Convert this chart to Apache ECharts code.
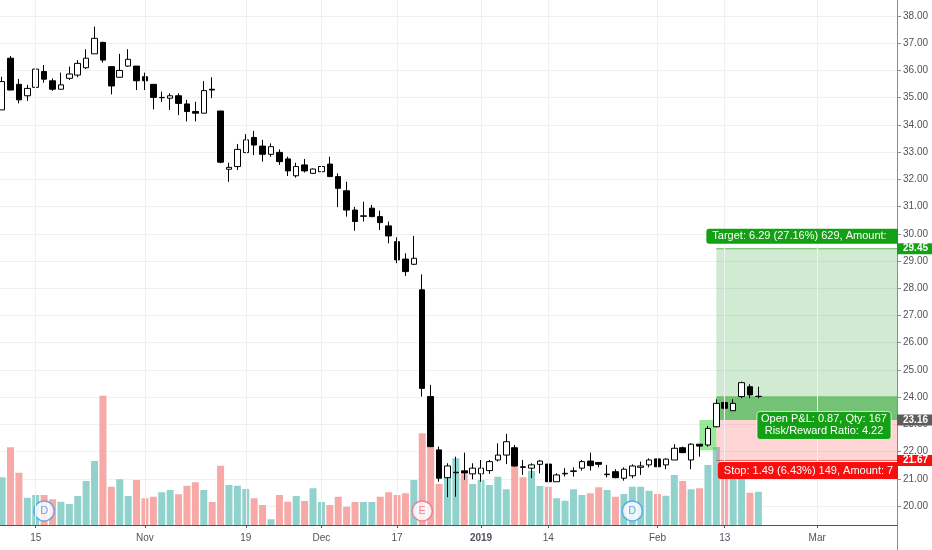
<!DOCTYPE html>
<html>
<head>
<meta charset="utf-8">
<script src="https://cdn.jsdelivr.net/npm/echarts@6/dist/echarts.min.js"></script>
<style>
html,body{margin:0;padding:0;background:#ffffff;}
#chart{width:932px;height:550px;}
</style>
</head>
<body>
<div id="chart"></div>
<script>
// ---- categories (trading days) ----
const dates = [
 '2018-10-09','2018-10-10','2018-10-11','2018-10-12','2018-10-15','2018-10-16','2018-10-17','2018-10-18','2018-10-19',
 '2018-10-22','2018-10-23','2018-10-24','2018-10-25','2018-10-26','2018-10-29','2018-10-30','2018-10-31',
 '2018-11-01','2018-11-02','2018-11-05','2018-11-06','2018-11-07','2018-11-08','2018-11-09','2018-11-12','2018-11-13',
 '2018-11-14','2018-11-15','2018-11-16','2018-11-19','2018-11-20','2018-11-21','2018-11-23','2018-11-26','2018-11-27',
 '2018-11-28','2018-11-29','2018-11-30',
 '2018-12-03','2018-12-04','2018-12-06','2018-12-07','2018-12-10','2018-12-11','2018-12-12','2018-12-13','2018-12-14',
 '2018-12-17','2018-12-18','2018-12-19','2018-12-20','2018-12-21','2018-12-24','2018-12-26','2018-12-27','2018-12-28','2018-12-31',
 '2019-01-02','2019-01-03','2019-01-04','2019-01-07','2019-01-08','2019-01-09','2019-01-10','2019-01-11','2019-01-14',
 '2019-01-15','2019-01-16','2019-01-17','2019-01-18','2019-01-22','2019-01-23','2019-01-24','2019-01-25','2019-01-28',
 '2019-01-29','2019-01-30','2019-01-31',
 '2019-02-01','2019-02-04','2019-02-05','2019-02-06','2019-02-07','2019-02-08','2019-02-11','2019-02-12','2019-02-13',
 '2019-02-14','2019-02-15','2019-02-19','2019-02-20','2019-02-21','2019-02-22','2019-02-25','2019-02-26','2019-02-27','2019-02-28',
 '2019-03-01','2019-03-04','2019-03-05','2019-03-06','2019-03-07','2019-03-08','2019-03-11','2019-03-12','2019-03-13','2019-03-14'
];

// ---- OHLC values ----
const opens = [
 34.55,36.45,35.49,35.07,35.38,35.96,35.62,35.31,35.71,35.83,36.10,36.61,37.03,36.14,35.75,36.16,36.16,35.77,35.49,35.00,
 34.98,35.07,34.77,34.49,34.43,35.31,34.51,32.37,32.47,32.98,33.54,33.22,32.92,32.99,32.75,32.13,32.53,32.22,32.28,32.56,
 32.10,31.58,30.87,30.64,30.94,30.63,30.29,29.71,29.07,28.88,27.94,24.02,22.06,21.04,21.22,21.29,21.18,21.18,21.30,21.69,
 21.87,22.14,21.44,21.39,21.53,21.54,20.89,21.18,21.27,21.39,21.65,21.60,21.15,21.26,21.02,21.11,21.42,21.51,21.73,21.51,
 21.69,22.14,21.69,22.27,22.24,22.91,23.80,23.50,24.02,24.38,24.02
];
const closes = [
 35.59,35.28,34.92,35.34,36.05,35.68,35.31,35.47,35.87,36.26,36.45,37.18,36.38,35.43,36.00,36.41,35.62,35.62,35.01,35.01,
 35.07,34.79,34.49,34.43,35.26,35.28,32.63,32.44,33.10,33.45,33.26,32.92,33.20,32.65,32.31,32.47,32.31,32.38,32.47,32.10,
 31.67,30.87,30.45,30.66,30.63,30.41,29.92,29.04,28.61,29.10,24.32,22.18,21.02,21.47,21.24,21.21,21.39,21.39,21.63,21.87,
 22.36,21.47,21.42,21.51,21.65,20.89,21.14,21.20,21.29,21.63,21.48,21.53,21.17,21.04,21.35,21.47,21.47,21.69,21.44,21.72,
 22.12,21.96,22.27,22.20,22.85,23.77,23.59,23.77,24.53,24.08,24.03
];
const lows = [
 34.55,35.28,34.79,34.88,35.34,35.55,35.25,35.31,35.65,35.75,36.05,36.61,36.29,35.12,35.75,36.14,35.28,35.28,34.57,34.85,
 34.55,34.36,34.13,34.13,34.43,34.98,32.59,31.91,32.34,32.98,32.89,32.65,32.83,32.53,32.12,32.06,32.25,32.20,32.12,32.08,
 30.98,30.63,30.11,30.45,30.61,30.14,29.65,28.92,28.45,28.85,24.02,22.18,20.89,20.32,20.34,20.96,20.98,20.89,21.18,21.63,
 21.54,21.44,21.14,21.02,21.20,20.89,20.89,21.08,21.08,21.30,21.30,21.42,21.05,21.02,20.93,21.02,21.14,21.42,21.42,21.35,
 21.69,21.94,21.35,21.81,22.18,22.89,23.34,23.50,23.96,23.96,23.96
];
const highs = [
 35.77,36.53,35.69,35.47,36.24,36.20,35.71,35.92,36.14,36.38,36.78,37.61,37.06,36.14,36.61,36.78,36.16,35.92,35.49,35.22,
 35.16,35.16,34.92,34.85,35.61,35.75,34.51,32.61,33.30,33.66,33.78,33.45,33.32,33.10,32.83,32.61,32.75,32.40,32.65,32.83,
 32.22,31.91,30.99,31.18,31.06,30.85,30.45,29.87,29.28,29.92,28.51,24.45,22.18,21.57,21.81,21.96,21.57,21.69,21.69,22.30,
 22.65,22.24,21.69,21.57,21.69,21.57,21.20,21.39,21.42,21.69,21.96,21.60,21.51,21.35,21.42,21.53,21.63,21.75,21.75,21.75,
 22.27,22.18,22.30,22.27,22.94,23.92,23.92,23.92,24.57,24.47,24.38
];

// ---- volume (thousands) and bar direction (1 = up colour, 0 = down colour) ----
const volumes = [
 1910,3110,2090,1090,1200,1200,1030,930,840,1160,1760,2560,5170,1530,1830,1160,1800,1070,1130,1310,
 1400,1230,1570,1710,1400,920,2370,1600,1570,1440,1070,800,230,1200,930,1160,960,1470,920,800,
 1130,730,920,920,920,1130,1310,1200,1270,1800,3670,4470,1640,2360,2670,2030,1640,1800,1600,1930,
 1430,2360,1910,2170,1560,1530,1070,970,1430,1200,1270,1510,1400,1130,1240,1530,1530,1370,1240,1170,
 2000,1760,1430,1470,2400,3120,2200,1880,1880,1290,1330
];
const volumeUp = [
 1,0,0,1,1,0,0,1,1,1,1,1,0,0,1,1,0,0,0,1,
 1,0,0,0,1,0,0,1,1,1,0,0,1,0,0,1,0,1,1,0,
 0,0,0,1,1,0,0,0,0,1,0,0,0,1,1,0,1,1,1,1,
 1,0,0,1,1,0,1,1,1,1,0,0,1,0,1,1,1,1,0,1,
 1,0,1,0,1,1,0,1,1,0,1
];

// ---- time-axis tick labels ----
const tickDates  = ['2018-10-15','2018-11-01','2018-11-19','2018-12-03','2018-12-17','2019-01-02','2019-01-14','2019-02-01','2019-02-13','2019-03-01'];
const tickLabels = ['15','Nov','19','Dec','17','2019','14','Feb','13','Mar'];

// ---- event markers ----
const dividendDates = ['2018-10-16','2019-01-29'];
const earningsDates = ['2018-12-20'];
const markerLevel = 19.82;

// ---- long position tool ----
const positionStart = '2019-02-12';
const entryPrice = 23.16;
const targetPrice = 29.45;
const stopPrice = 21.67;
const lastPrice = 24.03;
const highlightFrom = '2019-02-08';
const highlightTo = '2019-02-12';
const highlightLow = 22.05;
const highlightHigh = 23.16;
const targetText = 'Target: 6.29 (27.16%) 629, Amount:';
const pnlLines = ['Open P&L: 0.87, Qty: 167', 'Risk/Reward Ratio: 4.22'];
const stopText = 'Stop: 1.49 (6.43%) 149, Amount: 7';

// ---------------------------------------------------------------
const FONT = '"Liberation Sans", Arial, sans-serif';
const TEAL = '#92d2cc';
const PINK = '#f7a9a7';
const GRID = '#eef0f3';
const candles = opens.map((o, i) => [o, closes[i], lows[i], highs[i]]);
const tickMap = {};
tickDates.forEach((d, i) => { tickMap[d] = tickLabels[i]; });
const idx = d => dates.indexOf(d);
const PRICE_MIN = 19, PRICE_MAX = 38.588;
const VOL_MIN = -328, VOL_MAX = 21000;

const chart = echarts.init(document.getElementById('chart'), null, {renderer: 'canvas'});

const option = {
  animation: false,
  backgroundColor: '#ffffff',
  grid: {left: -2.1, right: 35, top: 0, bottom: 16.8, outerBoundsMode: 'none', containLabel: false},
  xAxis: {
    type: 'category',
    data: dates,
    boundaryGap: true,
    offset: -8.2,
    axisLine: {show: true, lineStyle: {color: '#50535e', width: 1}},
    axisTick: {show: true, alignWithLabel: true, length: 3, interval: (i, v) => v in tickMap, lineStyle: {color: '#50535e'}},
    axisLabel: {
      interval: (i, v) => v in tickMap,
      margin: 8,
      fontFamily: FONT,
      fontSize: 10,
      color: '#50535e',
      formatter: v => { const t = tickMap[v]; return /^\d{4}$/.test(t) ? '{b|' + t + '}' : t; },
      rich: {b: {fontWeight: 'bold', fontSize: 10, fontFamily: FONT, color: '#50535e'}}
    },
    splitLine: {show: false}
  },
  yAxis: [
    {
      type: 'value', position: 'right', min: PRICE_MIN, max: PRICE_MAX, interval: 1,
      axisLine: {show: true, lineStyle: {color: '#8a8d96'}},
      axisTick: {show: true, length: 4, lineStyle: {color: '#8a8d96'}},
      axisLabel: {
        margin: 6, fontFamily: FONT, fontSize: 10, color: '#4f525b',
        showMinLabel: false, showMaxLabel: false,
        formatter: v => (v < 20 || v > 38 || Math.abs(v - Math.round(v)) > 1e-6) ? '' : v.toFixed(2)
      },
      splitLine: {show: true, showMinLine: false, showMaxLine: false, lineStyle: {color: GRID, width: 1}}
    },
    {type: 'value', min: VOL_MIN, max: VOL_MAX, show: false, splitLine: {show: false}}
  ],
  series: [
    {
      name: 'Volume', type: 'bar', xAxisIndex: 0, yAxisIndex: 1, z: 1,
      data: volumes, barWidth: 7, silent: true,
      itemStyle: {color: p => volumeUp[p.dataIndex] ? TEAL : PINK},
      markLine: {
        silent: true, symbol: ['none', 'none'], label: {show: false},
        lineStyle: {type: 'solid', color: GRID, width: 1},
        emphasis: {disabled: true},
        data: tickDates.map(d => [{xAxis: idx(d), yAxis: VOL_MAX}, {xAxis: idx(d), yAxis: 0}])
      }
    },
    {
      name: 'Zones', type: 'custom', coordinateSystem: 'cartesian2d', xAxisIndex: 0, yAxisIndex: 0,
      z: 2, clip: true, silent: true,
      data: [[idx(positionStart), entryPrice]],
      renderItem: (params, api) => {
        const cs = params.coordSys;
        const right = cs.x + cs.width;
        const x0 = api.coord([idx(positionStart), entryPrice])[0];
        const y = p => api.coord([idx(positionStart), p])[1];
        const yT = y(targetPrice), yE = y(entryPrice), yS = y(stopPrice), yL = y(lastPrice);
        const hx0 = api.coord([idx(highlightFrom), highlightLow])[0];
        const hx1 = api.coord([idx(highlightTo), highlightLow])[0];
        const hy0 = y(highlightHigh), hy1 = y(highlightLow);
        return {type: 'group', children: [
          {type: 'rect', shape: {x: x0, y: yT, width: right - x0, height: yE - yT}, style: {fill: 'rgba(76,175,80,0.26)'}},
          {type: 'rect', shape: {x: x0, y: yL, width: right - x0, height: yE - yL}, style: {fill: 'rgba(40,160,40,0.55)'}},
          {type: 'rect', shape: {x: x0, y: yE, width: right - x0, height: yS - yE}, style: {fill: 'rgba(255,90,90,0.26)'}},
          {type: 'line', shape: {x1: x0, y1: yT, x2: right, y2: yT}, style: {stroke: 'rgba(30,160,30,0.7)', lineWidth: 1}},
          {type: 'line', shape: {x1: x0, y1: yS, x2: right, y2: yS}, style: {stroke: 'rgba(240,40,40,0.7)', lineWidth: 1}},
          {type: 'rect', shape: {x: hx0, y: hy0, width: hx1 - hx0, height: hy1 - hy0}, style: {fill: 'rgba(70,215,70,0.55)'}}
        ]};
      }
    },
    {
      name: 'Price', type: 'candlestick', xAxisIndex: 0, yAxisIndex: 0, z: 3,
      data: candles, barWidth: 6, silent: true,
      itemStyle: {color: '#ffffff', color0: '#000000', borderColor: '#000000', borderColor0: '#000000', borderWidth: 1}
    },
    {
      name: 'Dividends', type: 'scatter', xAxisIndex: 0, yAxisIndex: 0, z: 4, silent: true,
      data: dividendDates.map(d => [idx(d), markerLevel]),
      symbol: 'circle', symbolSize: 20,
      itemStyle: {color: '#ffffff', borderColor: '#42a0ef', borderWidth: 1.5},
      label: {show: true, position: 'inside', formatter: 'D', color: '#3a96e8', fontFamily: FONT, fontSize: 11}
    },
    {
      name: 'Earnings', type: 'scatter', xAxisIndex: 0, yAxisIndex: 0, z: 4, silent: true,
      data: earningsDates.map(d => [idx(d), markerLevel]),
      symbol: 'circle', symbolSize: 20,
      itemStyle: {color: '#ffffff', borderColor: '#ef6f8a', borderWidth: 1.5},
      label: {show: true, position: 'inside', formatter: 'E', color: '#ec6a86', fontFamily: FONT, fontSize: 11}
    },
    {
      name: 'PositionLabels', type: 'custom', coordinateSystem: 'cartesian2d', xAxisIndex: 0, yAxisIndex: 0,
      z: 5, clip: true, silent: true,
      data: [[idx(positionStart), entryPrice]],
      renderItem: (params, api) => {
        const cs = params.coordSys;
        const right = cs.x + cs.width;
        const x0 = api.coord([idx(positionStart), entryPrice])[0];
        const y = p => api.coord([idx(positionStart), p])[1];
        const yT = y(targetPrice), yE = y(entryPrice), yS = y(stopPrice);
        const font = '11px ' + FONT;
        const pnlW = 134, pnlH = 28;
        const pnlX = right - 6 - pnlW;
        return {type: 'group', children: [
          {type: 'rect', shape: {x: x0 - 10, y: yT - 20, width: right - x0 + 20, height: 15, r: [3, 0, 0, 3]}, style: {fill: '#14a014'}},
          {type: 'text', style: {x: x0 - 4, y: yT - 12.5, text: targetText, fill: '#ffffff', font: font, verticalAlign: 'middle', align: 'left'}},
          {type: 'rect', shape: {x: pnlX, y: yE - 8.5, width: pnlW, height: pnlH, r: 3}, style: {fill: '#14a014', stroke: 'rgba(255,255,255,0.7)', lineWidth: 1}},
          {type: 'text', style: {x: pnlX + pnlW / 2, y: yE - 1, text: pnlLines[0], fill: '#ffffff', font: font, verticalAlign: 'middle', align: 'center'}},
          {type: 'text', style: {x: pnlX + pnlW / 2, y: yE + 11.5, text: pnlLines[1], fill: '#ffffff', font: font, verticalAlign: 'middle', align: 'center'}},
          {type: 'rect', shape: {x: x0 + 1.5, y: yS + 1.5, width: right - x0 + 10, height: 17, r: [3, 0, 0, 3]}, style: {fill: '#f70f0f'}},
          {type: 'text', style: {x: x0 + 7.5, y: yS + 10, text: stopText, fill: '#ffffff', font: font, verticalAlign: 'middle', align: 'left'}}
        ]};
      }
    },
    {
      name: 'AxisTags', type: 'custom', coordinateSystem: 'cartesian2d', xAxisIndex: 0, yAxisIndex: 0,
      z: 6, clip: false, silent: true,
      data: [[idx(positionStart), entryPrice]],
      renderItem: (params, api) => {
        const cs = params.coordSys;
        const right = cs.x + cs.width;
        const bottom = cs.y + cs.height;
        const y = p => api.coord([idx(positionStart), p])[1];
        const tags = [[targetPrice, '#14a014'], [entryPrice, '#5d5d5d'], [stopPrice, '#f70f0f']];
        const children = [
          {type: 'line', shape: {x1: right + 0.5, y1: bottom, x2: right + 0.5, y2: bottom + 30}, style: {stroke: '#8a8d96', lineWidth: 1}}
        ];
        tags.forEach(([p, c]) => {
          const yy = y(p);
          children.push({type: 'rect', shape: {x: right, y: yy - 5.5, width: 36, height: 11}, style: {fill: c}});
          children.push({type: 'text', style: {x: right + 6, y: yy, text: p.toFixed(2), fill: '#ffffff', font: 'bold 10px ' + FONT, verticalAlign: 'middle', align: 'left'}});
        });
        return {type: 'group', children: children};
      }
    }
  ]
};
chart.setOption(option);
</script>
</body>
</html>
